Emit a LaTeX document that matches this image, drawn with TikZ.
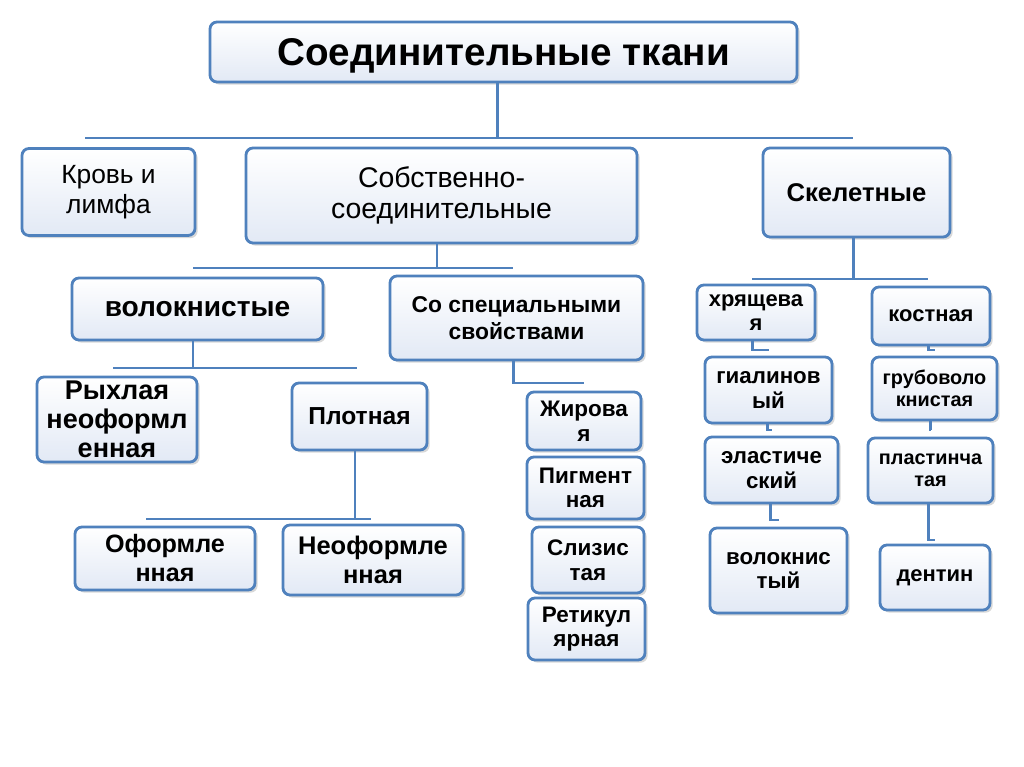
\documentclass[tikz,border=0pt]{standalone}
\usepackage{fontspec}
\setmainfont{Liberation Sans}
\usetikzlibrary{positioning,shadows}
\definecolor{boxblue}{RGB}{79,129,189}
\definecolor{boxfill}{RGB}{226,233,245}

\begin{document}
\begin{tikzpicture}[x=0.02cm,y=-0.02cm]
    \tikzset{my box/.style 2 args = {rectangle, rounded corners=4pt, draw=boxblue, line width=1.6pt,
            top color=white, bottom color=boxfill,
            drop shadow={shadow xshift=1.5pt, shadow yshift=-1.5pt, opacity=0.3},
            align=center, inner sep=0pt, minimum width=#1*0.02cm, minimum height=#2*0.02cm}}
    \tikzset{my link/.style = {-, draw=boxblue, line width=1.7pt}}
    \tikzset{fs/.style 2 args = {font=\fontsize{#1}{#2}\selectfont},
             fsb/.style 2 args = {font=\fontsize{#1}{#2}\selectfont\bfseries}}
    \fill[white] (0,0) rectangle (1024,767);
    \useasboundingbox (0,0) rectangle (1024,767);
    % levels 1 and 2
    \node[my box={587}{60}, fsb={22}{25}, text depth=0pt] (tissue) at (503.5,52) {Соединительные ткани};
    \node[my box={173}{87}, fs={15}{17}] (blood) at (108.5,192) {Кровь и\\лимфа};
    \node[my box={391}{95}, fs={16.2}{18}] (proper) at (441.5,195.5) {Собственно-\\соединительные};
    \node[my box={187}{89}, fsb={14.6}{16}] (skel) at (856.5,192.5) {Скелетные};
    % proper connective
    \node[my box={251}{62}, fsb={16}{18}] (fibr) at (197.5,309) {волокнистые};
    \node[my box={253}{84}, fsb={13}{15}] (spec) at (516.5,318) {Со специальными\\свойствами};
    \node[my box={160}{85}, fsb={15.4}{16.5}] (loose) at (117,419.5) {Рыхлая\\неоформл\\енная};
    \node[my box={135}{67}, fsb={14}{16}] (dense) at (359.5,416.5) {Плотная};
    \node[my box={180}{63}, fsb={14.3}{16.5}] (formed) at (165,558.5) {Оформле\\нная};
    \node[my box={180}{70}, fsb={14.5}{16.5}] (unformed) at (373,560) {Неоформле\\нная};
    \node[my box={114}{58}, fsb={12.8}{14}] (fat) at (584,421) {Жирова\\я};
    \node[my box={117}{62}, fsb={12.8}{14}] (pigm) at (585.5,488) {Пигмент\\ная};
    \node[my box={112}{66}, fsb={12.8}{14}] (muc) at (588,560) {Слизис\\тая};
    \node[my box={117}{62}, fsb={12.8}{14}] (ret) at (586.5,629) {Ретикул\\ярная};
    % skeletal
    \node[my box={118}{55}, fsb={12.5}{14}] (cart) at (756,312.5) {хрящева\\я};
    \node[my box={118}{58}, fsb={12.5}{14}] (bone) at (931,316) {костная};
    \node[my box={127}{66}, fsb={12.7}{14}] (hyal) at (768.5,390) {гиалинов\\ый};
    \node[my box={133}{66}, fsb={12.7}{14}] (elast) at (771.5,470) {эластиче\\ский};
    \node[my box={137}{85}, fsb={12.7}{14}] (fibc) at (778.5,570.5) {волокнис\\тый};
    \node[my box={125}{63}, fsb={11.3}{12.5}] (coarse) at (934.5,388.5) {грубоволо\\книстая};
    \node[my box={125}{65}, fsb={11.3}{12.5}] (lam) at (930.5,470.5) {пластинча\\тая};
    \node[my box={110}{65}, fsb={12.5}{14}] (dent) at (935,577.5) {дентин};
    % buses
    \coordinate (j1) at (497,138);
    \coordinate (bus1L) at (85,138);
    \coordinate (bus1R) at (853,138);
    \coordinate (j2) at (437,268);
    \coordinate (bus2L) at (193,268);
    \coordinate (bus2R) at (513,268);
    \coordinate (j3) at (193,368);
    \coordinate (bus3L) at (113,368);
    \coordinate (bus3R) at (357,368);
    \coordinate (j4) at (513,383);
    \coordinate (j5) at (355,519);
    \coordinate (bus4L) at (146,519);
    \coordinate (bus4R) at (371,519);
    \coordinate (j6) at (853,279);
    \coordinate (bus5L) at (752,279);
    \coordinate (bus5R) at (928,279);
    \draw[my link] (tissue.south -| j1) -- (j1);
    \draw[my link] (bus1L) -- (bus1R);
    \draw[my link] (proper.south -| j2) -- (j2);
    \draw[my link] (bus2L) -- (bus2R);
    \draw[my link] (fibr.south -| j3) -- (j3);
    \draw[my link] (bus3L) -- (bus3R);
    \draw[my link] (spec.south -| j4) -- (j4) -- (j4 -| fat.north);
    \draw[my link] (dense.south -| j5) -- (j5);
    \draw[my link] (bus4L) -- (bus4R);
    \draw[my link] (skel.south -| j6) -- (j6);
    \draw[my link] (bus5L) -- (bus5R);
    % chains
    \coordinate (k1) at (752,350);
    \coordinate (k2) at (767,430);
    \coordinate (k3) at (770,520);
    \coordinate (k4) at (928,350);
    \coordinate (k5) at (930,430);
    \coordinate (k6) at (928,540);
    \draw[my link] (cart.south -| k1) -- (k1) -- (k1 -| hyal.north);
    \draw[my link] (hyal.south -| k2) -- (k2) -- (k2 -| elast.north);
    \draw[my link] (elast.south -| k3) -- (k3) -- (k3 -| fibc.north);
    \draw[my link] (bone.south -| k4) -- (k4) -- (k4 -| coarse.north);
    \draw[my link] (coarse.south -| k5) -- (k5) -- (k5 -| lam.north);
    \draw[my link] (lam.south -| k6) -- (k6) -- (k6 -| dent.north);
\end{tikzpicture}
\end{document}
